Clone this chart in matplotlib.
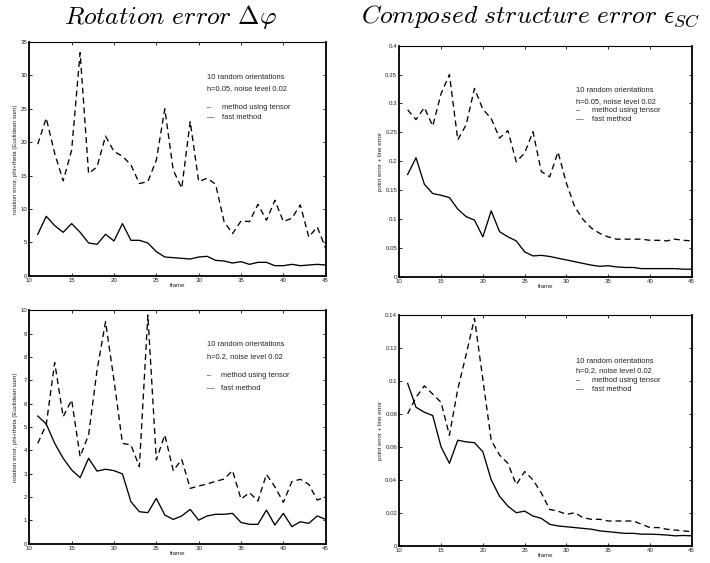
import numpy as np
import matplotlib
matplotlib.use("Agg")
import matplotlib.pyplot as plt
from matplotlib.ticker import FormatStrFormatter, MultipleLocator

plt.rcParams['font.family'] = ['Liberation Sans', 'DejaVu Sans']
plt.rcParams['mathtext.fontset'] = 'cm'

frames = list(range(11, 46))

rot_h005_tensor = [19.7, 23.6, 18.3, 14.2, 18.8, 33.4, 15.3, 16.3, 20.9, 18.6,
                   17.9, 16.6, 13.8, 14.1, 17.3, 25.0, 15.8, 13.1, 23.1, 14.1,
                   14.6, 13.7, 8.1, 6.3, 8.2, 8.1, 10.7, 8.3, 11.3, 8.1,
                   8.6, 10.6, 5.8, 7.3, 4.1]
rot_h005_fast = [6.2, 8.9, 7.5, 6.5, 7.8, 6.5, 4.9, 4.7, 6.2, 5.2,
                 7.8, 5.3, 5.3, 4.9, 3.6, 2.8, 2.7, 2.6, 2.5, 2.8,
                 2.9, 2.3, 2.2, 1.9, 2.1, 1.7, 2.0, 2.0, 1.5, 1.5,
                 1.7, 1.5, 1.6, 1.7, 1.6]

str_h005_tensor = [0.289, 0.272, 0.293, 0.261, 0.317, 0.350, 0.237, 0.263, 0.326, 0.290,
                   0.274, 0.240, 0.253, 0.199, 0.214, 0.251, 0.182, 0.173, 0.216, 0.162,
                   0.121, 0.099, 0.084, 0.075, 0.069, 0.065, 0.065, 0.065, 0.065, 0.063,
                   0.063, 0.062, 0.065, 0.063, 0.062]
str_h005_fast = [0.177, 0.206, 0.160, 0.144, 0.141, 0.137, 0.117, 0.104, 0.098, 0.069,
                 0.114, 0.078, 0.069, 0.062, 0.043, 0.036, 0.037, 0.035, 0.032, 0.029,
                 0.026, 0.023, 0.020, 0.018, 0.019, 0.017, 0.016, 0.016, 0.014, 0.014,
                 0.014, 0.014, 0.014, 0.013, 0.013]

rot_h02_tensor = [4.3, 5.1, 7.76, 5.44, 6.16, 3.73, 4.66, 7.44, 9.51, 7.01,
                  4.3, 4.23, 3.3, 9.8, 3.59, 4.66, 3.13, 3.61, 2.37, 2.47,
                  2.56, 2.67, 2.77, 3.13, 1.91, 2.19, 1.83, 2.97, 2.44, 1.77,
                  2.66, 2.76, 2.54, 1.87, 2.01]
rot_h02_fast = [5.47, 5.13, 4.3, 3.66, 3.16, 2.83, 3.66, 3.11, 3.19, 3.13,
                2.99, 1.8, 1.37, 1.33, 1.94, 1.23, 1.04, 1.19, 1.47, 1.01,
                1.19, 1.26, 1.26, 1.3, 0.91, 0.83, 0.83, 1.44, 0.8, 1.3,
                0.73, 0.94, 0.87, 1.19, 1.04]

str_h02_tensor = [0.080, 0.090, 0.097, 0.092, 0.087, 0.067, 0.095, 0.116, 0.138, 0.101,
                  0.064, 0.055, 0.050, 0.037, 0.045, 0.040, 0.032, 0.022, 0.021, 0.019,
                  0.020, 0.017, 0.016, 0.016, 0.015, 0.015, 0.015, 0.015, 0.013, 0.011,
                  0.011, 0.010, 0.0095, 0.009, 0.0085]
str_h02_fast = [0.0985, 0.084, 0.081, 0.079, 0.060, 0.050, 0.064, 0.063, 0.0625, 0.057,
                0.040, 0.030, 0.024, 0.020, 0.021, 0.018, 0.0166, 0.013, 0.012, 0.0115,
                0.011, 0.0105, 0.010, 0.009, 0.0085, 0.008, 0.0075, 0.0075, 0.007, 0.007,
                0.0068, 0.0065, 0.006, 0.0062, 0.006]

titles = [r"$\mathit{Rotation\ error}\ \Delta\varphi$",
          r"$\mathit{Composed\ structure\ error}\ \epsilon_{SC}$"]
ylabels = ["rotation error, phi+theta (Euclidean sum)", "point error + line error"]
info1 = "10 random orientations"
info_h = ["h=0.05, noise level 0.02", "h=0.2, noise level 0.02"]
legend_labels = ["method using tensor", "fast method"]

W, H = 710, 563
fig = plt.figure(figsize=(W / 100, H / 100), dpi=100)

def frac(left, right, top, bottom):
    return [left / W, (H - bottom) / H, (right - left) / W, (bottom - top) / H]

panels = [
    dict(rect=frac(29.3, 325.7, 42, 275.7), tensor=rot_h005_tensor, fast=rot_h005_fast,
         ylim=(0, 35), ystep=5, ylabel=ylabels[0], h=info_h[0],
         tx=0.599, lx=0.649, ys=[0.849, 0.799, 0.719, 0.676]),
    dict(rect=frac(399.3, 691.7, 45.7, 276.7), tensor=str_h005_tensor, fast=str_h005_fast,
         ylim=(0, 0.4), ystep=0.05, ylabel=ylabels[1], h=info_h[0],
         tx=0.604, lx=0.658, ys=[0.805, 0.758, 0.719, 0.681]),
    dict(rect=frac(29.3, 325.7, 310.3, 543.7), tensor=rot_h02_tensor, fast=rot_h02_fast,
         ylim=(0, 10), ystep=1, ylabel=ylabels[0], h=info_h[1],
         tx=0.599, lx=0.647, ys=[0.854, 0.801, 0.72, 0.666]),
    dict(rect=frac(399.3, 691.7, 315, 545.7), tensor=str_h02_tensor, fast=str_h02_fast,
         ylim=(0, 0.14), ystep=0.02, ylabel=ylabels[1], h=info_h[1],
         tx=0.606, lx=0.658, ys=[0.80, 0.759, 0.715, 0.675]),
]

tick_fs = 4.4
txt_fs = 5.4
for i, p in enumerate(panels):
    ax = fig.add_axes(p['rect'])
    ax.plot(frames, p['tensor'], color='black', lw=0.95, ls=(0, (4.5, 3)))
    ax.plot(frames, p['fast'], color='black', lw=0.95)
    ax.set_xlim(10, 45)
    ax.set_ylim(*p['ylim'])
    ax.xaxis.set_major_locator(MultipleLocator(5))
    ax.yaxis.set_major_locator(MultipleLocator(p['ystep']))
    ax.yaxis.set_major_formatter(FormatStrFormatter('%g'))
    ax.tick_params(direction='in', length=2.5, width=0.6, labelsize=tick_fs,
                   top=True, right=True, pad=1.5, colors='black', labelcolor='#222222')
    for side in ['left', 'bottom', 'right']:
        ax.spines[side].set_linewidth(1.3)
    ax.spines['top'].set_linewidth(0.8)
    ax.set_xlabel("frame", fontsize=tick_fs, labelpad=0.5, color='#222222')
    ax.set_ylabel(p['ylabel'], fontsize=tick_fs, labelpad=1.5, color='#222222')
    ys = p['ys']
    kw = dict(transform=ax.transAxes, fontsize=txt_fs, va='center', color='#222222')
    ax.text(p['tx'], ys[0], info1, **kw)
    ax.text(p['tx'], ys[1], p['h'], **kw)
    ax.text(p['tx'], ys[2], "\u2013", **kw)
    ax.text(p['lx'], ys[2], legend_labels[0], **kw)
    ax.text(p['tx'], ys[3], "\u2014", **kw)
    ax.text(p['lx'], ys[3], legend_labels[1], **kw)

fig.text(170 / W, 1 - 17 / H, titles[0], fontsize=18.4, ha='center', va='center')
fig.text(530 / W, 1 - 17 / H, titles[1], fontsize=18.4, ha='center', va='center')

fig.savefig("out.png", dpi=100)
